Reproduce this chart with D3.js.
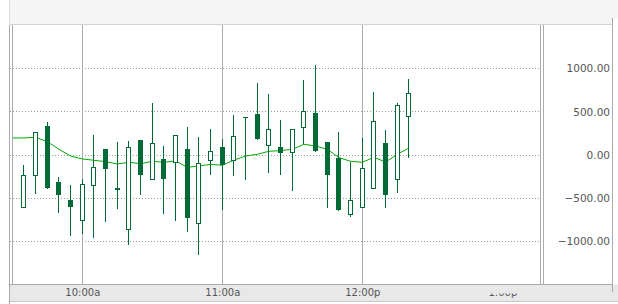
<!DOCTYPE html>
<html>
<head>
<meta charset="utf-8">
<script src="https://cdn.jsdelivr.net/npm/d3@7"></script>
<style>
  html, body { margin: 0; padding: 0; background: #fff; }
  svg { display: block; }
  text { font-family: "DejaVu Sans", Verdana, sans-serif; font-size: 10px; fill: #555; }
</style>
</head>
<body>
<svg id="chart" width="618" height="304"></svg>
<script>
// 5 minute bars
const times = ['09:35', '09:40', '09:45', '09:50', '09:55', '10:00', '10:05', '10:10', '10:15', '10:20',
  '10:25', '10:30', '10:35', '10:40', '10:45', '10:50', '10:55', '11:00', '11:05', '11:10',
  '11:15', '11:20', '11:25', '11:30', '11:35', '11:40', '11:45', '11:50', '11:55', '12:00',
  '12:05', '12:10', '12:15', '12:20'];
const opens = [-605, -235, 335, -312, -520, -755, -350, 69, -382, -859,
  170, -281, -50, -84, 66, -790, -61, 89, -54, 437,
  474, 112, 89, 38, 320, 486, 150, -35, -679, -605,
  -385, 135, -281, 447];
const highs = [-119, 262, 382, -254, -347, -277, 231, 69, 150, 162,
  170, 601, 104, 228, 324, 208, 301, 181, 462, 437,
  832, 705, 405, 297, 867, 1040, 150, 266, -77, 197,
  728, 289, 601, 879];
const lows = [-605, -447, -390, -667, -933, -910, -956, -771, -620, -1037,
  -459, -281, -679, -760, -887, -1156, -228, -636, -243, -289,
  173, -208, -228, -413, 124, 38, -609, -644, -713, -605,
  -385, -609, -436, -31];
const closes = [-235, 262, -382, -459, -597, -339, -142, -158, -400, 89,
  -228, 135, -274, 228, -725, -96, 46, -116, 216, 432,
  185, 297, 27, 297, 505, 50, -228, -636, -524, -150,
  390, -459, 583, 713];

// moving average line (starts before the first visible bar)
const maTimes = ['09:25', '09:30', '09:35', '09:40', '09:45', '09:50', '09:55', '10:00', '10:05', '10:10',
  '10:15', '10:20', '10:25', '10:30', '10:35', '10:40', '10:45', '10:50', '10:55', '11:00',
  '11:05', '11:10', '11:15', '11:20', '11:25', '11:30', '11:35', '11:40', '11:45', '11:50',
  '11:55', '12:00', '12:05', '12:10', '12:15', '12:20'];
const maValues = [197, 197, 197, 205, 154, 66, -12, -46, -61, -77,
  -104, -84, -101, -73, -84, -69, -142, -127, -108, -119,
  -58, -12, 8, 43, 50, 66, 124, 104, 66, -31,
  -73, -84, -27, -81, 8, 81];

const yTicks = [1000, 500, 0, -500, -1000];
const xLabelTimes = ['10:00', '11:00', '12:00', '13:00'];
const xGridTimes = ['10:00', '11:00', '12:00'];

const parse = d3.timeParse('%Y-%m-%d %H:%M');
const day = '2013-05-14 ';
const toDate = (t) => parse(day + t);

const svg = d3.select('#chart');
const plotRight = 540.5, plotTop = 24, plotBottom = 284;

const x = d3.scaleTime()
  .domain([toDate('10:00'), toDate('13:00')])
  .range([82.33, 502.33]);
const y = d3.scaleLinear().domain([-1000, 1000]).range([241.5, 68.5]);
const px = (v) => Math.floor(v) + 0.5;

// header and frame
svg.append('rect').attr('x', 9.5).attr('y', 0).attr('width', 609).attr('height', 18.5).attr('fill', '#f5f5f5');
svg.append('rect').attr('x', 9.5).attr('y', 18).attr('width', 603).attr('height', 6.5).attr('fill', '#f5f5f5');
svg.append('line').attr('x1', 9.5).attr('x2', 612.5).attr('y1', 24.5).attr('y2', 24.5).attr('stroke', '#d4d4d4');
svg.append('line').attr('x1', 9.5).attr('x2', 9.5).attr('y1', 0).attr('y2', 24).attr('stroke', '#dcdcdc');

// bottom axis band
svg.append('rect').attr('x', 10).attr('y', 284.5).attr('width', 608).attr('height', 17).attr('fill', '#e8e8e8');
svg.append('line').attr('x1', 10).attr('x2', 612.5).attr('y1', 284.5).attr('y2', 284.5).attr('stroke', '#aaa');
svg.append('line').attr('x1', 10).attr('x2', 618).attr('y1', 301.5).attr('y2', 301.5).attr('stroke', '#c8c8c8');

// horizontal dotted grid
svg.append('g')
  .selectAll('line')
  .data(yTicks)
  .join('line')
  .attr('x1', 10)
  .attr('x2', 541)
  .attr('y1', (d) => px(y(d)))
  .attr('y2', (d) => px(y(d)))
  .attr('stroke', '#999')
  .attr('stroke-dasharray', '1,2');

// vertical hour grid
svg.append('g')
  .selectAll('line')
  .data(xGridTimes)
  .join('line')
  .attr('x1', (d) => px(x(toDate(d))))
  .attr('x2', (d) => px(x(toDate(d))))
  .attr('y1', 25)
  .attr('y2', 284)
  .attr('stroke', '#aaa');

// frame lines
const vlines = [[9.5, 25, 304], [12.5, 25, 284], [540.5, 25, 284], [543.5, 25, 284], [612.5, 18, 292]];
svg.append('g')
  .selectAll('line')
  .data(vlines)
  .join('line')
  .attr('x1', (d) => d[0])
  .attr('x2', (d) => d[0])
  .attr('y1', (d) => d[1])
  .attr('y2', (d) => d[2])
  .attr('stroke', '#aaa');

// clip for plot marks
svg.append('clipPath').attr('id', 'plotClip')
  .append('rect').attr('x', 13).attr('y', plotTop + 1).attr('width', plotRight - 13).attr('height', plotBottom - plotTop - 1);

const plot = svg.append('g').attr('clip-path', 'url(#plotClip)');

// moving average
const maData = maTimes.map((t, i) => ({ t: toDate(t), v: maValues[i] }));
plot.append('path')
  .datum(maData)
  .attr('fill', 'none')
  .attr('stroke', '#00aa00')
  .attr('stroke-width', 1)
  .attr('d', d3.line().x((d) => x(d.t)).y((d) => y(d.v)));

// candles
const bars = times.map((t, i) => ({ t: toDate(t), o: opens[i], h: highs[i], l: lows[i], c: closes[i] }));
const candleColor = '#006b36';
const g = plot.selectAll('g.candle').data(bars).join('g').attr('class', 'candle');

g.append('line')
  .attr('x1', (d) => px(x(d.t)))
  .attr('x2', (d) => px(x(d.t)))
  .attr('y1', (d) => Math.round(y(d.h)))
  .attr('y2', (d) => Math.round(y(d.l)))
  .attr('stroke', candleColor);

g.append('rect')
  .attr('x', (d) => (d.c >= d.o ? px(x(d.t)) - 2 : Math.floor(x(d.t)) - 2))
  .attr('width', (d) => (d.c >= d.o ? 4 : 5))
  .attr('y', (d) => {
    const t = Math.round(y(Math.max(d.o, d.c)));
    return d.c >= d.o ? t + 0.5 : t;
  })
  .attr('height', (d) => Math.max(1, Math.round(y(Math.min(d.o, d.c))) - Math.round(y(Math.max(d.o, d.c)))))
  .attr('fill', (d) => (d.c >= d.o ? '#fff' : candleColor))
  .attr('stroke', (d) => (d.c >= d.o ? candleColor : 'none'));

// y axis labels
const yAxis = d3.axisLeft(y).tickValues(yTicks).tickSize(0).tickPadding(0).tickFormat(d3.format('.2f'));
svg.append('g')
  .attr('transform', 'translate(610,0)')
  .call(yAxis)
  .call((s) => s.select('.domain').remove())
  .call((s) => s.selectAll('text').attr('fill', '#555').style('font-size', '10.5px'));

// x axis labels
svg.append('clipPath').attr('id', 'lastLabelClip')
  .append('rect').attr('x', -60).attr('y', 4.5).attr('width', 120).attr('height', 10);

const fmtHour = (d) => {
  const h = d.getHours();
  return (h % 12 === 0 ? 12 : h % 12) + ':00' + (h < 12 ? 'a' : 'p');
};
const xAxis = d3.axisBottom(x).tickValues(xLabelTimes.map(toDate)).tickSize(0).tickPadding(0).tickFormat(fmtHour);
svg.append('g')
  .attr('transform', 'translate(0,289)')
  .call(xAxis)
  .call((s) => s.select('.domain').remove())
  .call((s) => s.selectAll('text').attr('fill', '#555').attr('dy', '0.71em'))
  .call((s) => s.selectAll('.tick').filter((d, i) => i === xLabelTimes.length - 1)
    .select('text').attr('fill', '#888').attr('clip-path', 'url(#lastLabelClip)'));
</script>
</body>
</html>
